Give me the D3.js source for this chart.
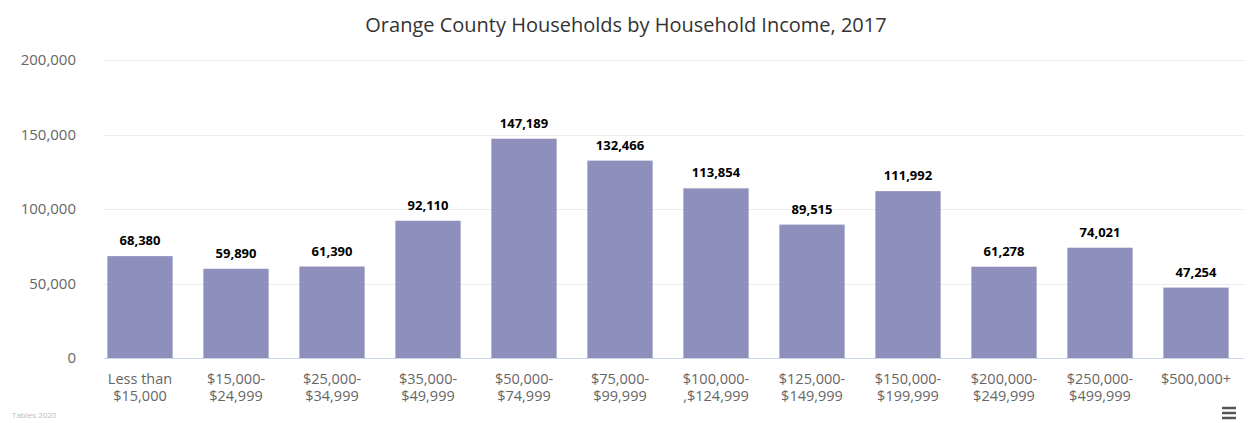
<!DOCTYPE html>
<html>
<head>
<meta charset="utf-8">
<script src="https://d3js.org/d3.v7.min.js"></script>
<style>
  body { margin: 0; background: #fff; }
  text { font-family: "Open Sans", sans-serif; }
</style>
</head>
<body>
<script>

var categories = ["Less than|$15,000", "$15,000-|$24,999", "$25,000-|$34,999", "$35,000-|$49,999",
                  "$50,000-|$74,999", "$75,000-|$99,999", "$100,000-|,$124,999", "$125,000-|$149,999",
                  "$150,000-|$199,999", "$200,000-|$249,999", "$250,000-|$499,999", "$500,000+"];
var households = [68380, 59890, 61390, 92110, 147189, 132466, 113854, 89515, 111992, 61278, 74021, 47254];
var yTicks = [0, 50000, 100000, 150000, 200000];

var width = 1248, height = 423;
var plotLeft = 92, plotRight = 1244, plotTop = 60, plotBottom = 358;

var svg = d3.select("body").append("svg")
    .attr("width", width)
    .attr("height", height);

svg.append("rect").attr("width", width).attr("height", height).attr("fill", "#fff");

// title
svg.append("text")
    .attr("x", 626).attr("y", 32)
    .attr("text-anchor", "middle")
    .attr("font-size", "20px")
    .attr("fill", "#333")
    .text("Orange County Households by Household Income, 2017");

var x = d3.scaleBand().domain(categories).range([plotLeft, plotRight]).paddingInner(0.32).paddingOuter(0.16);
var y = d3.scaleLinear().domain([0, 200000]).range([plotBottom, plotTop]);

// grid lines
var grid = svg.append("g");
grid.selectAll("line").data(yTicks).enter().append("line")
    .attr("x1", plotLeft + 12).attr("x2", plotRight)
    .attr("y1", function(d){ return Math.round(y(d)) + 0.5; })
    .attr("y2", function(d){ return Math.round(y(d)) + 0.5; })
    .attr("stroke", function(d){ return d == 0 ? "#ccd6eb" : "#ececec"; })
    .attr("stroke-width", 1);

// y labels
var yAxis = d3.axisLeft(y).tickValues(yTicks).tickSize(0).tickPadding(0)
    .tickFormat(d3.format(","));
var ya = svg.append("g").attr("transform", "translate(" + (plotLeft - 16) + ",0)").call(yAxis);
ya.select(".domain").remove();
ya.selectAll("text")
    .attr("font-family", "Open Sans, sans-serif")
    .attr("font-size", "15px")
    .attr("fill", "#666")
    .attr("dy", "0.32em");

// bars
svg.selectAll(".bar").data(households).enter().append("rect")
    .attr("class", "bar")
    .attr("x", function(d, i){ return x(categories[i]); })
    .attr("width", x.bandwidth())
    .attr("y", function(d){ return y(d); })
    .attr("height", function(d){ return y(0) - y(d); })
    .attr("fill", "#8f8fbc");

// value labels
svg.selectAll(".val").data(households).enter().append("text")
    .attr("class", "val")
    .attr("x", function(d, i){ return x(categories[i]) + x.bandwidth() / 2; })
    .attr("y", function(d){ return y(d) - 11; })
    .attr("text-anchor", "middle")
    .attr("font-size", "13px")
    .attr("font-weight", "bold")
    .attr("fill", "#000")
    .text(function(d){ return d3.format(",")(d); });

// x labels
var xAxis = d3.axisBottom(x).tickSize(0).tickPadding(0).tickFormat("");
var xa = svg.append("g").attr("transform", "translate(0," + plotBottom + ")").call(xAxis);
xa.select(".domain").remove();
xa.selectAll(".tick").each(function(d){
    var parts = d.split("|");
    var t = d3.select(this).append("text")
        .attr("text-anchor", "middle")
        .attr("font-size", "14.5px")
        .attr("fill", "#666");
    parts.forEach(function(p, k){
        t.append("tspan").attr("x", 0).attr("y", 26 + k * 17).text(p);
    });
});

// credits
svg.append("text")
    .attr("x", 12).attr("y", 418)
    .attr("font-size", "8px")
    .attr("fill", "#bbb")
    .text("Tables 2020");

// menu icon
for (var m = 0; m < 3; m++) {
    svg.append("line")
        .attr("x1", 1222).attr("x2", 1236)
        .attr("y1", 408 + m * 5).attr("y2", 408 + m * 5)
        .attr("stroke", "#555").attr("stroke-width", 2.5);
}

</script>
</body>
</html>
